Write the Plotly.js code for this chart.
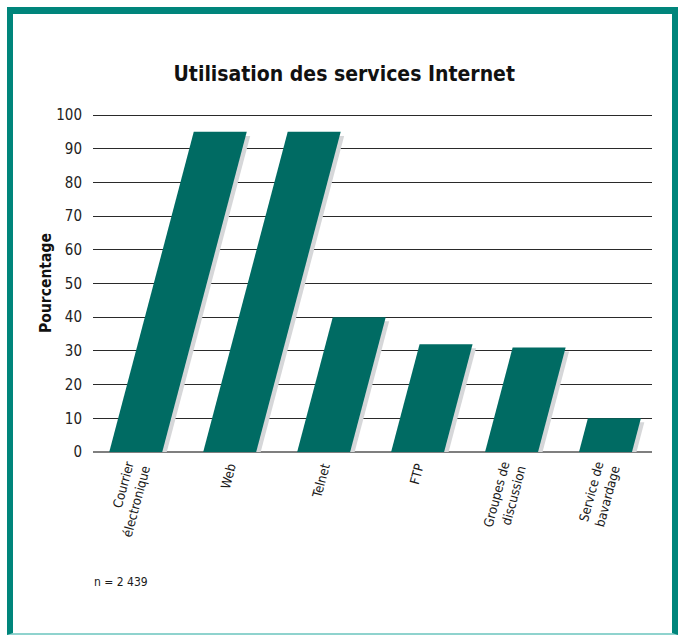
<!DOCTYPE html>
<html>
<head>
<meta charset="utf-8">
<script src="https://cdn.plot.ly/plotly-3.0.1.min.js"></script>
<style>
  html, body { margin: 0; padding: 0; background: #ffffff; }
  #wrap { position: relative; width: 679px; height: 635px; background: #ffffff; overflow: hidden; }
  #frame { position: absolute; left: 7px; top: 7px; width: 671px; height: 628px; box-sizing: border-box;
           border-left: 6px solid #00857b; border-top: 7px solid #00857b; border-right: 6px solid #00857b;
           border-bottom: 2px solid #8fd3ce; z-index: 0; }
  #chart { position: absolute; left: 0; top: 0; width: 679px; height: 635px; z-index: 1; }
</style>
</head>
<body>
<div id="wrap">
  <div id="frame"></div>
  <div id="chart"></div>
</div>
<script>
// ---- data ----
const categories = ['Courrier<br>électronique', 'Web', 'Telnet', 'FTP', 'Groupes de<br>discussion', 'Service de<br>bavardage'];
const values = [95, 95, 40, 32, 31, 10];
const yTickVals = [0, 10, 20, 30, 40, 50, 60, 70, 80, 90, 100];
const sampleNote = 'n = 2 439';

// ---- styling parameters ----
const FONT = '"DejaVu Sans Condensed", "Liberation Sans Narrow", "Arial Narrow", sans-serif';
const barColor = '#006b63';
const shadowColor = '#d6d7d9';
const halfWidth = 0.282;   // in category units
const slant = 0.00947;     // x shift per unit of value
const shDx = 0.048, shDy = 1.2;

const traces = [];
// shadows
values.forEach((v, i) => {
  const top = Math.max(v - shDy, 0);
  const x0 = i - halfWidth + shDx, x1 = i + halfWidth + shDx;
  traces.push({
    type: 'scatter', mode: 'lines', fill: 'toself', fillcolor: shadowColor,
    line: { width: 0, color: shadowColor }, hoverinfo: 'skip', showlegend: false,
    x: [x0, x1, x1 + slant * top, x0 + slant * top, x0],
    y: [0, 0, top, top, 0]
  });
});
// bars
values.forEach((v, i) => {
  const x0 = i - halfWidth, x1 = i + halfWidth;
  traces.push({
    type: 'scatter', mode: 'lines', fill: 'toself', fillcolor: barColor,
    line: { width: 0, color: barColor }, showlegend: false,
    x: [x0, x1, x1 + slant * v, x0 + slant * v, x0],
    y: [0, 0, v, v, 0],
    hoverinfo: 'text', text: categories[i].replace('<br>', ' ') + ': ' + v + ' %'
  });
});

const layout = {
  width: 679, height: 635,
  margin: { l: 93, r: 27, t: 114, b: 183 },
  paper_bgcolor: 'rgba(0,0,0,0)', plot_bgcolor: 'rgba(0,0,0,0)',
  font: { family: FONT, color: '#1a1a1a' },
  title: {
    text: '<b>Utilisation des services Internet</b>',
    font: { family: FONT, size: 21, color: '#111111' },
    x: 0.507, xanchor: 'center', xref: 'container',
    y: 1 - 74 / 635, yanchor: 'middle', yref: 'container'
  },
  xaxis: {
    range: [-0.455, 5.495], fixedrange: true,
    tickmode: 'array', tickvals: categories.map((c, i) => i), ticktext: categories,
    tickangle: -75, tickfont: { family: FONT, size: 13, color: '#1a1a1a' },
    showgrid: false, zeroline: false, showline: false, ticks: '',
    ticklabelstandoff: 4
  },
  yaxis: {
    range: [0, 100.3], fixedrange: true,
    tickmode: 'array', tickvals: yTickVals,
    tickfont: { family: FONT, size: 15, color: '#222222' },
    showgrid: true, gridcolor: '#2a2a2a', gridwidth: 1,
    zeroline: true, zerolinecolor: '#7f7f7f', zerolinewidth: 2,
    showline: false, ticks: '', ticklabelstandoff: 10,
    title: { text: '<b>Pourcentage</b>', font: { family: FONT, size: 15.5, color: '#111111' }, standoff: 0 }
  },
  annotations: [{
    text: sampleNote, xref: 'paper', yref: 'paper', x: -0.002, y: -0.385,
    xanchor: 'left', yanchor: 'middle', showarrow: false,
    font: { family: FONT, size: 12, color: '#1a1a1a' }
  }]
};

Plotly.newPlot('chart', traces, layout, { displayModeBar: false, staticPlot: false });
</script>
</body>
</html>
